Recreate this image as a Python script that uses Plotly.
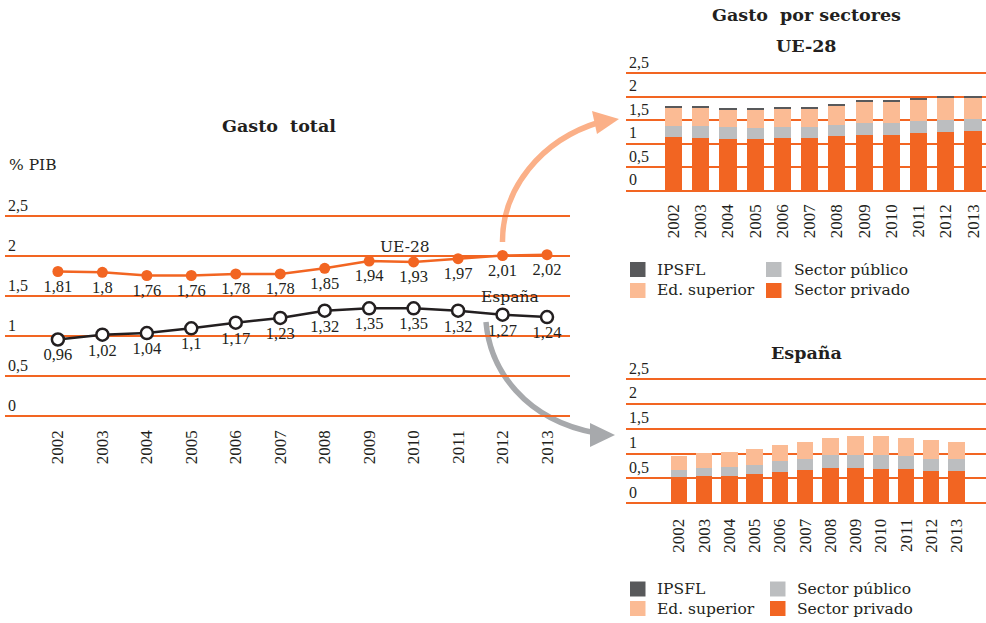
import plotly.graph_objects as go

W, H = 986, 623

# ---------------- data ----------------
years = [str(y) for y in range(2002, 2014)]

ue28_total = [1.81, 1.80, 1.76, 1.76, 1.78, 1.78, 1.85, 1.94, 1.93, 1.97, 2.01, 2.02]
espana_total = [0.96, 1.02, 1.04, 1.10, 1.17, 1.23, 1.32, 1.35, 1.35, 1.32, 1.27, 1.24]

ue28_privado = [1.15, 1.13, 1.11, 1.10, 1.12, 1.13, 1.16, 1.18, 1.18, 1.23, 1.26, 1.28]
ue28_publico = [0.24, 0.25, 0.24, 0.24, 0.24, 0.23, 0.25, 0.27, 0.26, 0.25, 0.25, 0.25]
ue28_superior = [0.40, 0.40, 0.39, 0.40, 0.40, 0.40, 0.42, 0.47, 0.47, 0.47, 0.48, 0.47]
ue28_ipsfl = [0.02, 0.02, 0.02, 0.02, 0.02, 0.02, 0.02, 0.02, 0.02, 0.02, 0.02, 0.02]

es_privado = [0.52, 0.54, 0.56, 0.60, 0.64, 0.68, 0.72, 0.71, 0.69, 0.69, 0.66, 0.66]
es_publico = [0.15, 0.17, 0.17, 0.18, 0.21, 0.22, 0.25, 0.26, 0.28, 0.26, 0.24, 0.24]
es_superior = [0.29, 0.31, 0.31, 0.32, 0.32, 0.33, 0.35, 0.38, 0.38, 0.37, 0.37, 0.34]
es_ipsfl = [0.00, 0.00, 0.00, 0.00, 0.00, 0.00, 0.00, 0.00, 0.00, 0.00, 0.00, 0.00]

y_ticks = [0, 0.5, 1, 1.5, 2, 2.5]
sector_names = ["Sector privado", "Sector público", "Ed. superior", "IPSFL"]

# ---------------- style ----------------
ORANGE = "#f26522"
PEACH = "#fbbb94"
GREY = "#bcbec0"
DARK = "#58595b"
INK = "#231f20"
ARROW_ORANGE = "#fbb088"
ARROW_GREY = "#a7a9ac"
sector_colors = [ORANGE, GREY, PEACH, DARK]

WORD_FONT = "DejaVu Serif"
NUM_FONT = "Liberation Serif"


def fx(px):
    return px / W


def fy(py):
    return 1 - py / H


def label(v):
    return f"{v:g}".replace(".", ",")


fig = go.Figure()

# ---------------- left: total spending lines ----------------
fig.add_trace(go.Scatter(
    x=years, y=ue28_total, mode="lines+markers+text",
    line=dict(color=ORANGE, width=2.5),
    marker=dict(size=11, color=ORANGE),
    text=[label(v) for v in ue28_total], textposition="bottom center",
    textfont=dict(family=NUM_FONT, size=16.5, color=INK),
    cliponaxis=False, xaxis="x", yaxis="y", showlegend=False,
))
fig.add_trace(go.Scatter(
    x=years, y=espana_total, mode="lines+markers+text",
    line=dict(color=INK, width=2.5),
    marker=dict(size=12, color="white", line=dict(color=INK, width=2.5)),
    text=[label(v) for v in espana_total], textposition="bottom center",
    textfont=dict(family=NUM_FONT, size=16.5, color=INK),
    cliponaxis=False, xaxis="x", yaxis="y", showlegend=False,
))

# ---------------- right: stacked sector bars ----------------
ue28_parts = [ue28_privado, ue28_publico, ue28_superior, ue28_ipsfl]
es_parts = [es_privado, es_publico, es_superior, es_ipsfl]
for name, vals, color in zip(sector_names, ue28_parts, sector_colors):
    fig.add_trace(go.Bar(x=years, y=vals, name=name, marker=dict(color=color, line=dict(width=0)),
                         width=0.63, xaxis="x2", yaxis="y2", showlegend=False))
for name, vals, color in zip(sector_names, es_parts, sector_colors):
    fig.add_trace(go.Bar(x=years, y=vals, name=name, marker=dict(color=color, line=dict(width=0)),
                         width=0.65, xaxis="x3", yaxis="y3", showlegend=False))


def x_axis(domain, rng, standoff):
    return dict(domain=domain, range=rng, type="category", showgrid=False, zeroline=False,
                showline=False, ticks="", tickangle=-90, ticklabelstandoff=standoff,
                tickfont=dict(family=NUM_FONT, size=17, color=INK), fixedrange=True)


def y_axis(domain, rng, anchor):
    return dict(domain=domain, range=rng, anchor=anchor, tickvals=y_ticks, showgrid=True,
                gridcolor=ORANGE, gridwidth=1.5, zeroline=False, showline=False, ticks="",
                ticklabelposition="inside top",
                tickfont=dict(family=NUM_FONT, size=16, color=INK), fixedrange=True)


fig.update_layout(
    width=W, height=H, autosize=False,
    margin=dict(l=0, r=0, t=0, b=0, pad=0),
    paper_bgcolor="white", plot_bgcolor="rgba(0,0,0,0)",
    separators=",.", barmode="stack",
    font=dict(family=WORD_FONT, color=INK),
    xaxis=x_axis([fx(5), fx(570)], [-1.19, 11.517], 0),
    yaxis=y_axis([fy(425.9), fy(196.3)], [-0.12, 2.75], "x"),
    xaxis2=x_axis([fx(626), 1.0], [-1.745, 11.477], 6),
    yaxis2=y_axis([fy(193.8), fy(52.6)], [-0.06, 2.94], "x2"),
    xaxis3=x_axis([fx(626), 1.0], [-2.1, 12.17], 8),
    yaxis3=y_axis([fy(506.3), fy(357.3)], [-0.06, 2.94], "x3"),
)
fig.layout.xaxis2.anchor = "y2"
fig.layout.xaxis3.anchor = "y3"

# ---------------- titles and labels ----------------
annots = [
    ("<b>Gasto  total</b>", 279, 126, 17.5, "center"),
    ("% PIB", 7, 165, 15.5, "left"),
    ("UE-28", 405, 247, 15.5, "center"),
    ("España", 510, 297, 15.5, "center"),
    ("<b>Gasto  por sectores</b>", 806, 15, 17.5, "center"),
    ("<b>UE-28</b>", 806, 46, 17.5, "center"),
    ("<b>España</b>", 806, 353, 17.5, "center"),
]
for text, x, y, size, anchor in annots:
    fig.add_annotation(text=text, x=fx(x), y=fy(y), xref="paper", yref="paper",
                       xanchor=anchor, yanchor="middle", showarrow=False,
                       font=dict(family=WORD_FONT, size=size, color=INK))

# ---------------- legends (two columns, two rows) ----------------
legend_order = [3, 1, 2, 0]  # IPSFL, Sector público / Ed. superior, Sector privado
for (col1_sq, col1_tx, col2_sq, col2_tx, row_y) in [
    (630, 655, 766, 792, (269.5, 290.5)),
    (630, 655, 770, 795, (589.0, 608.5)),
]:
    cells = [(col1_sq, col1_tx, row_y[0]), (col2_sq, col2_tx, row_y[0]),
             (col1_sq, col1_tx, row_y[1]), (col2_sq, col2_tx, row_y[1])]
    for idx, (sq, tx, cy) in zip(legend_order, cells):
        fig.add_shape(type="rect", xref="paper", yref="paper",
                      x0=fx(sq), x1=fx(sq + 15.5), y0=fy(cy + 7.5), y1=fy(cy - 7.5),
                      fillcolor=sector_colors[idx], line=dict(width=0))
        fig.add_annotation(text=sector_names[idx], x=fx(tx), y=fy(cy), xref="paper", yref="paper",
                           xanchor="left", yanchor="middle", showarrow=False,
                           font=dict(family=WORD_FONT, size=15.5, color=INK))


# ---------------- curved connector arrows ----------------
def pt(x, y):
    return f"{fx(x):.5f},{fy(y):.5f}"


fig.add_shape(type="path", xref="paper", yref="paper", layer="below",
              path=f"M {pt(502.5, 242)} C {pt(502, 190)} {pt(540, 140)} {pt(600, 122)}",
              line=dict(color=ARROW_ORANGE, width=5.5))
fig.add_shape(type="path", xref="paper", yref="paper", layer="below",
              path=f"M {pt(619, 119)} L {pt(592, 111)} L {pt(597, 134)} Z",
              fillcolor=ARROW_ORANGE, line=dict(width=0))
fig.add_shape(type="path", xref="paper", yref="paper", layer="below",
              path=f"M {pt(486, 322)} C {pt(490, 370)} {pt(525, 420)} {pt(596, 433)}",
              line=dict(color=ARROW_GREY, width=5.5))
fig.add_shape(type="path", xref="paper", yref="paper", layer="below",
              path=f"M {pt(615, 435)} L {pt(590, 423)} L {pt(590, 447)} Z",
              fillcolor=ARROW_GREY, line=dict(width=0))

fig.write_html("out.html")
